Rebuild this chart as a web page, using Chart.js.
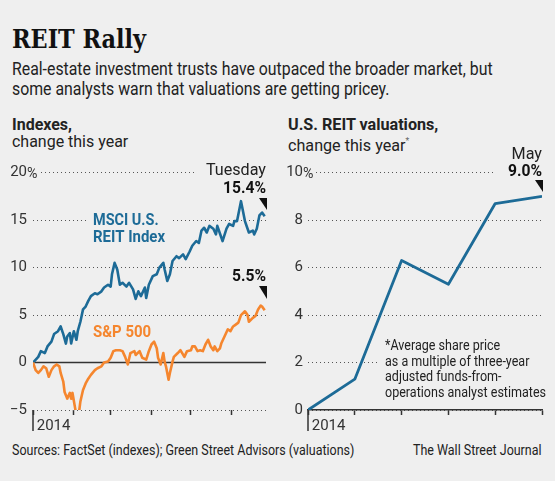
<!DOCTYPE html>
<html>
<head>
<meta charset="utf-8">
<script src="https://cdn.jsdelivr.net/npm/chart.js@4.4.1/dist/chart.umd.min.js"></script>
<style>
body{margin:0;background:#efefef;width:555px;height:481px;overflow:hidden;position:relative;
  font-family:"Liberation Sans Narrow","Roboto",sans-serif;color:#222}
canvas{position:absolute;left:0;top:0}
.t{position:absolute;white-space:nowrap;line-height:1;transform-origin:left top}
</style>
</head>
<body>
<div class="t" style="left:12px;top:26px;font-family:'DejaVu Serif';font-weight:bold;font-size:26px;color:#111;transform:scaleX(0.86)">REIT Rally</div>
<div class="t" style="left:12px;top:59px;font-size:17.5px;line-height:20px;transform:scaleX(0.905)">Real-estate investment trusts have outpaced the broader market, but<br>some analysts warn that valuations are getting pricey.</div>
<div class="t" style="left:12px;top:116px;font-size:17px;line-height:17px;transform:scaleX(0.94)"><b>Indexes,</b><br>change this year</div>
<div class="t" style="left:288px;top:116px;font-size:17px;line-height:17px;transform:scaleX(0.95)"><b>U.S. REIT valuations,</b><br>change this year<sup style="font-size:9px;color:#666">*</sup></div>
<div class="t" style="left:12px;top:444px;font-size:14.5px;transform:scaleX(0.86)">Sources: FactSet (indexes); Green Street Advisors (valuations)</div>
<div class="t" style="right:13px;top:444px;font-size:14.5px;transform:scaleX(0.86);transform-origin:right top">The Wall Street Journal</div>
<canvas id="left" width="555" height="481"></canvas>
<canvas id="right" width="555" height="481"></canvas>
<script>
var BG = '#efefef'
var BLUE = '#1d6b97'
var ORANGE = '#f5862e'
var INK = '#333'
var FONT = '"Liberation Sans Narrow", "Roboto", sans-serif'

// Indexes, change this year (%). x = days since Jan 1 2014
var reitDays = [0,4,6,9,11,14,16,19,21,23,25,26,28,29,31,33,34,36,38,40,42,44,47,49,52,54,57,59,60,62,64,66,68,71,73,76,78,80,82,85,86,88,91,94,96,99,100,102,104,106,109,111,114,116,119,121,124,126,128,130,132,134,137,139,140,143,144,147,149,152,153,155,158,159,161,163,164,167,168,170,172,174,176]
var reitValues = [0,0.6,1.2,1.0,1.7,2.2,3.0,3.3,3.8,3.0,2.0,2.75,3.1,2.0,3.3,2.4,3.3,4.3,5.6,5.9,6.5,7.0,7.3,7.2,7.5,7.9,8.2,8.0,9.3,10.5,9.8,8.2,8.4,8.0,8.4,7.7,6.7,7.5,7.0,7.9,6.8,8.2,9.1,9.3,10.0,10.5,9.8,8.6,9.3,10.7,11.2,11.0,11.4,10.9,11.7,12.3,12.8,12.6,13.9,14.2,13.7,14.4,14.1,13.5,14.4,13.2,12.8,14.1,14.6,14.4,14.9,14.9,17.0,16.3,14.9,14.1,13.7,13.9,13.5,14.1,15.5,15.8,15.4]
var spDays = [0,2,4,6,8,10,12,14,16,18,20,21,23,24,26,28,29,30,32,33,35,36,38,40,42,44,47,49,52,54,57,59,61,63,66,68,70,72,74,77,78,81,83,86,88,90,92,94,95,97,99,100,101,103,104,106,107,110,112,115,117,120,121,123,125,127,129,131,133,135,137,138,140,142,143,146,148,150,152,154,156,158,161,163,164,167,169,171,173,174,176]
var spValues = [0,-0.8,-1.1,-0.8,-0.4,-0.6,-1.5,-0.8,-0.4,-0.2,-0.4,-1.1,-2.0,-3.1,-3.8,-3.2,-3.8,-3.2,-4.8,-5.7,-5.2,-4.1,-2.9,-2.2,-1.7,-1.3,-0.8,-0.6,-0.4,0,0.1,0.5,1.2,1.3,1.3,1.2,0.6,-0.2,1.0,1.2,0.8,1.2,0.5,0.3,1.2,1.9,2.2,1.5,0.5,-0.2,1.0,0.1,-0.4,-1.8,-1.1,0.1,0.6,1.0,1.3,0.6,1.2,1.3,1.7,1.7,1.2,1.3,1.2,1.9,2.4,1.7,1.3,1.7,1.2,1.5,2.0,2.9,3.5,3.3,3.8,4.0,4.2,5.0,5.4,5.0,4.3,4.7,4.9,5.6,6.0,5.9,5.5]
var monthTicks = [0, 31, 59, 90, 120, 151]
var indexTicks = [-5, 0, 5, 10, 15, 20]

// U.S. REIT valuations, change this year (%)
var valMonths = [0, 1, 2, 3, 4, 5]
var valValues = [0, 1.3, 6.3, 5.3, 8.7, 9.0]
var valTicks = [0, 2, 4, 6, 8, 10]
var yearLabel = '2014'

function pts(xs, ys){
  return xs.map(function(x, i){ return {x: x, y: ys[i]} })
}

// canvas text, squeezed a bit to mimic the narrow newspaper face
function text(ctx, s, x, y, align, bold, size, color, sx){
  ctx.save()
  ctx.font = (bold ? 'bold ' : '') + size + 'px ' + FONT
  ctx.textAlign = align
  ctx.textBaseline = 'alphabetic'
  ctx.fillStyle = color
  ctx.translate(x, y)
  ctx.scale(sx || 0.9, 1)
  ctx.fillText(s, 0, 0)
  ctx.restore()
}

function pointer(ctx, x, y, w, h){
  ctx.fillStyle = '#111'
  ctx.beginPath()
  ctx.moveTo(x - w, y)
  ctx.lineTo(x, y)
  ctx.lineTo(x, y + h)
  ctx.closePath()
  ctx.fill()
}

function startTick(ctx, a, xs){
  ctx.strokeStyle = INK
  ctx.lineWidth = 1.5
  ctx.beginPath()
  ctx.moveTo(xs.getPixelForValue(xs.min), a.bottom)
  ctx.lineTo(xs.getPixelForValue(xs.min), a.bottom + 21)
  ctx.stroke()
}

var indexNotes = {
  id: 'indexNotes',
  beforeDatasetsDraw: function(chart){
    var ctx = chart.ctx, a = chart.chartArea, xs = chart.scales.x, ys = chart.scales.y
    ctx.save()
    // solid zero line
    ctx.strokeStyle = INK
    ctx.lineWidth = 1.5
    ctx.beginPath()
    ctx.moveTo(a.left, ys.getPixelForValue(0))
    ctx.lineTo(a.right, ys.getPixelForValue(0))
    ctx.stroke()
    startTick(ctx, a, xs)
    // % after top tick
    var y20 = ys.getPixelForValue(20)
    ctx.fillStyle = BG
    ctx.fillRect(a.left - 6, y20 - 8, 12, 16)
    text(ctx, '%', a.left - 6, y20 + 5, 'left', false, 15, INK, 0.95)
    // latest values
    ctx.fillStyle = BG
    ctx.fillRect(197, 160, a.right - 197 + 2, 36)
    text(ctx, 'Tuesday', a.right, 175, 'right', false, 17, '#222', 0.95)
    text(ctx, '15.4%', a.right, 193, 'right', true, 17, '#111', 0.92)
    pointer(ctx, a.right + 1, 198, 8, 12)
    ctx.fillStyle = BG
    ctx.fillRect(222, 262, a.right - 222 + 2, 22)
    text(ctx, '5.5%', a.right, 281, 'right', true, 17, '#111', 0.92)
    pointer(ctx, a.right + 1, 286, 8, 13)
    // series labels
    ctx.fillStyle = BG
    ctx.fillRect(87, 210, 83, 36)
    text(ctx, 'MSCI U.S.', 93, 225, 'left', true, 17, BLUE, 0.85)
    text(ctx, 'REIT Index', 93, 242, 'left', true, 17, BLUE, 0.88)
    text(ctx, 'S&P 500', 93, 337, 'left', true, 17, ORANGE, 0.88)
    ctx.restore()
  }
}

var valNotes = {
  id: 'valNotes',
  beforeDatasetsDraw: function(chart){
    var ctx = chart.ctx, a = chart.chartArea, xs = chart.scales.x, ys = chart.scales.y
    ctx.save()
    startTick(ctx, a, xs)
    var y10 = ys.getPixelForValue(10)
    ctx.fillStyle = BG
    ctx.fillRect(a.left - 5, y10 - 8, 12, 16)
    text(ctx, '%', a.left - 5, y10 + 5, 'left', false, 15, INK, 0.95)
    ctx.fillStyle = BG
    ctx.fillRect(494, 143, a.right - 494 + 3, 35)
    text(ctx, 'May', a.right, 159, 'right', false, 17, '#222', 0.95)
    text(ctx, '9.0%', a.right, 176, 'right', true, 17, '#111', 0.92)
    pointer(ctx, a.right + 1, 180, 8, 12)
    ctx.fillStyle = BG
    ctx.fillRect(378, 338, a.right - 378 + 3, 64)
    var notes = ['*Average share price', 'as a multiple of three-year', 'adjusted funds-from-', 'operations analyst estimates']
    notes.forEach(function(s, i){
      text(ctx, s, 385, 350 + i * 15.7, 'left', false, 14.5, '#222', 0.865)
    })
    ctx.restore()
  }
}

Chart.defaults.font.family = FONT
Chart.defaults.font.size = 15
Chart.defaults.color = INK

function yAxis(ticks, width, pad){
  return {
    min: ticks[0], max: ticks[ticks.length - 1],
    afterBuildTicks: function(s){ s.ticks = ticks.map(function(v){ return {value: v} }) },
    afterFit: function(s){ s.width = width },
    border: {display: false, dash: [1, 3]},
    grid: {color: '#555', lineWidth: 1, drawTicks: false},
    ticks: {
      padding: pad, color: INK, font: {size: 15},
      callback: function(v){ return v < 0 ? '\u2212' + Math.abs(v) : String(v) }
    }
  }
}

function xAxis(min, max, ticks, showBorder){
  return {
    type: 'linear', min: min, max: max,
    afterBuildTicks: function(s){ s.ticks = ticks.map(function(v){ return {value: v} }) },
    afterFit: function(s){ s.height = 30 },
    border: {display: showBorder, color: INK, width: 1.5},
    grid: {drawOnChartArea: false, drawTicks: true, tickLength: 5, tickColor: INK, tickWidth: 1.5},
    ticks: {
      align: 'start', padding: 2, color: INK, font: {size: 15}, maxRotation: 0,
      callback: function(v){ return v === min ? ' ' + yearLabel : '' }
    }
  }
}

new Chart(document.querySelector('#left'), {
  type: 'line',
  data: {
    datasets: [
      {label: 'S&P 500', data: pts(spDays, spValues), borderColor: ORANGE, borderWidth: 2.6, pointRadius: 0, borderJoinStyle: 'round'},
      {label: 'MSCI U.S. REIT Index', data: pts(reitDays, reitValues), borderColor: BLUE, borderWidth: 2.6, pointRadius: 0, borderJoinStyle: 'round'}
    ]
  },
  options: {
    responsive: false, animation: false, events: [],
    layout: {padding: {left: 0, right: 289, top: 172.7, bottom: 41}},
    plugins: {legend: {display: false}, tooltip: {enabled: false}},
    scales: {
      x: xAxis(0, 177, monthTicks, false),
      y: yAxis(indexTicks, 33, 6)
    }
  },
  plugins: [indexNotes]
})

new Chart(document.querySelector('#right'), {
  type: 'line',
  data: {
    datasets: [
      {label: 'U.S. REIT valuations', data: pts(valMonths, valValues), borderColor: BLUE, borderWidth: 2.8, pointRadius: 0, borderJoinStyle: 'round'}
    ]
  },
  options: {
    responsive: false, animation: false, events: [],
    layout: {padding: {left: 280, right: 13, top: 172.7, bottom: 41}},
    plugins: {legend: {display: false}, tooltip: {enabled: false}},
    scales: {
      x: xAxis(0, 5, valMonths, true),
      y: yAxis(valTicks, 28, 5)
    }
  },
  plugins: [valNotes]
})
</script>
</body>
</html>
